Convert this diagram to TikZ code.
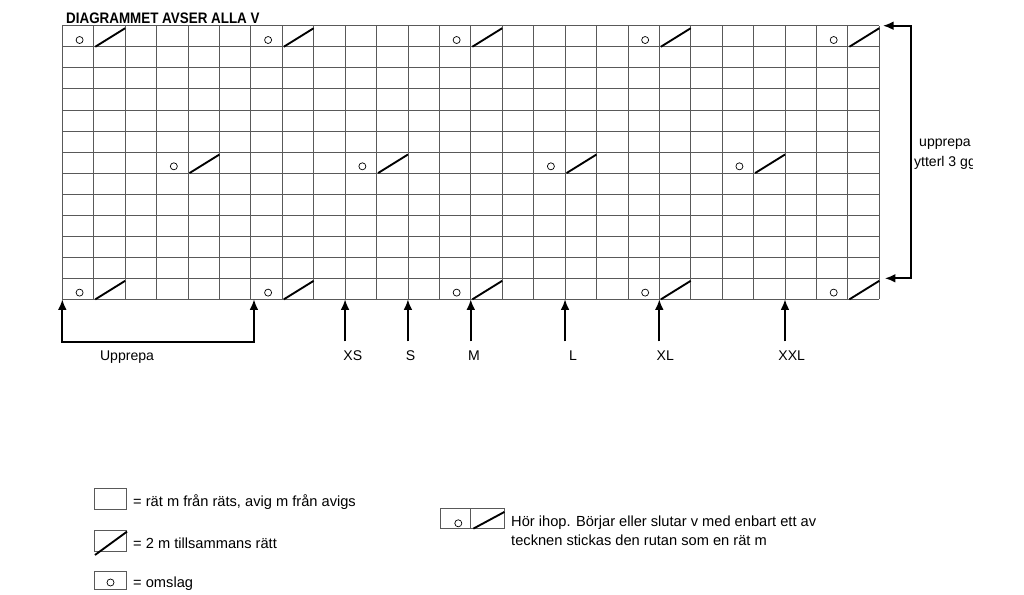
\documentclass[tikz,border=0pt]{standalone}
\usepackage{fontspec}
\setmainfont{Liberation Sans}
\usetikzlibrary{arrows.meta,positioning,calc}

\begin{document}
\begin{tikzpicture}
[x=0.03cm,y=-0.03cm,>={Latex[length=9pt,width=7.5pt]},
 oms/.style={circle,draw,inner sep=0pt,minimum size=6pt,line width=0.6pt},
 sl/.style={line width=1.6pt},
 gr/.style={black!65,line width=0.6pt},
 pil/.style={line width=1.5pt},
 txt/.style={font=\fontsize{12}{14}\selectfont,inner sep=0pt},
 ftxt/.style={font=\fontsize{12.5}{14}\selectfont,inner sep=0pt,anchor=base west},
 ruta/.style={draw,black!65,line width=0.6pt,inner sep=0pt,minimum width=0.97cm}]
\useasboundingbox (0,0) rectangle (1024,595);
\node[txt,font=\bfseries\fontsize{13}{15}\selectfont,xscale=0.88,anchor=base west] (rubrik) at (66,23.3) {DIAGRAMMET AVSER ALLA V};

% diagrammet, 26 x 13 rutor
\begin{scope}[shift={(62.3,25.7)},x=0.9426cm,y=-0.6315cm]
\foreach \i in {0,...,26} \draw[gr] (\i,0) -- (\i,13);
\foreach \j in {0,...,13} \draw[gr] (0,\j) -- (26,\j);
\foreach \c in {0,6,...,24} {
  \node[oms] (ot\c) at (\c+0.55,0.68) {};
  \draw[sl] (\c+1.05,1) -- (\c+2,0.12);
  \node[oms] (ob\c) at (\c+0.55,12.68) {};
  \draw[sl] (\c+1.05,13) -- (\c+2,12.12);
}
\foreach \c in {3,9,...,21} {
  \node[oms] (om\c) at (\c+0.55,6.68) {};
  \draw[sl] (\c+1.05,7) -- (\c+2,6.12);
}
\foreach \c/\s in {9/XS,11/S,13/M,16/L,19/XL,23/XXL} \coordinate (b\s) at (\c,13);
\coordinate (uL) at (0,13);
\coordinate (uR) at (6.1,13);
\coordinate (rT) at (26.12,0);
\coordinate (rB) at (26.18,12);
\end{scope}

% storlekar
\foreach \s in {XS,S,M,L,XL,XXL} \draw[pil,->] (b\s) ++(0,42) -- (b\s);
\node[txt,anchor=base] (XS) at (352.8,360.5) {XS};
\node[txt,anchor=base] (S) at (410.5,360.5) {S};
\node[txt,anchor=base] (M) at (474,360.5) {M};
\node[txt,anchor=base] (L) at (573,360.5) {L};
\node[txt,anchor=base] (XL) at (665.3,360.5) {XL};
\node[txt,anchor=base] (XXL) at (791.7,360.5) {XXL};
\draw[pil,<->] (uL) -- ++(0,43) -| (uR);
\node[txt,anchor=base] (upprepa) at (127,360.5) {Upprepa};

% upprepa uppåt
\draw[pil,<->] (rT) -- ++(28,0) |- (rB);
\node[txt,anchor=base] (upp) at (945,146.7) {upprepa};
\begin{scope}
\clip (900,150) rectangle (972,175);
\node[txt,anchor=base] (ggr) at (945,166.7) {ytterl 3 gg};
\end{scope}

% teckenförklaring
\node[ruta,minimum height=0.63cm] (k1) at (110.5,498.8) {};
\node[ftxt] (t1) at (133,506.5) {= rät m från räts, avig m från avigs};
\node[ruta,minimum height=0.65cm] (k2) at (110.5,540.8) {};
\draw[sl] ($(k2.south west)+(1,3)$) -- ($(k2.north east)+(0,2)$);
\node[ftxt] (t2) at (133,548.5) {= 2 m tillsammans rätt};
\node[ruta,minimum height=0.53cm] (k3) at (110.5,580.5) {};
\node[oms] (k3o) at (110.5,582.5) {};
\node[ftxt] (t3) at (133,587) {= omslag};
\node[ruta,minimum width=0.9cm,minimum height=0.6cm] (k4) at (455,518.3) {};
\node[ruta,minimum width=1.0cm,minimum height=0.6cm,right=0pt of k4] (k5) {};
\node[oms] (k4o) at (458.3,523.3) {};
\draw[sl] ($(k5.south west)+(3,0)$) -- ($(k5.north east)+(0,4)$);
\node[ftxt] (t4) at (511,526) {Hör ihop. Börjar eller slutar v med enbart ett av};
\node[ftxt] (t5) at (511,545) {tecknen stickas den rutan som en rät m};
\end{tikzpicture}
\end{document}
